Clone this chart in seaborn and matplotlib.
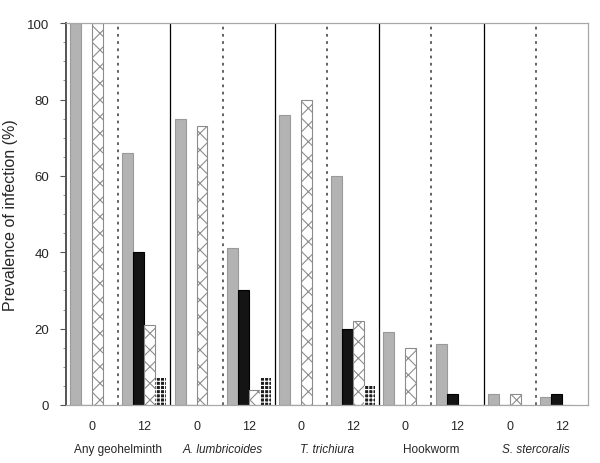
import matplotlib
matplotlib.use("Agg")
import matplotlib.pyplot as plt
import seaborn as sns
import pandas as pd
from matplotlib.transforms import blended_transform_factory

groups = ["Any geohelminth", "A. lumbricoides", "T. trichiura", "Hookworm", "S. stercoralis"]
group_italic = [False, True, True, False, True]
times = ["0", "12"]
series = ["S1", "S2", "S3", "S4"]

# values per slot (group x time), one list per series
s1 = [100, 66, 75, 41, 76, 60, 19, 16, 3, 2]
s2 = [0, 40, 0, 30, 0, 20, 0, 3, 0, 3]
s3 = [100, 21, 73, 4, 80, 22, 15, 0, 3, 0]
s4 = [0, 7, 0, 7, 0, 5, 0, 0, 0, 0]

slots = [f"{g}|{t}" for g in groups for t in times]
rows = []
for name, vals in zip(series, [s1, s2, s3, s4]):
    for slot, v in zip(slots, vals):
        rows.append({"slot": slot, "series": name, "value": v})
df = pd.DataFrame(rows)

sns.set_style("white")
plt.rcParams["font.family"] = ["Liberation Sans", "DejaVu Sans"]
plt.rcParams["hatch.linewidth"] = 0.8

fig = plt.figure(figsize=(6.0, 4.64), dpi=100)
ax = fig.add_axes([0.11, 0.125, 0.87, 0.823])

palette = {"S1": "#b3b3b3", "S2": "#141414", "S3": "white", "S4": "#1e1e1e"}
sns.barplot(data=df, x="slot", y="value", hue="series", order=slots,
            hue_order=series, palette=palette, width=0.84, dodge=True,
            errorbar=None, legend=False, ax=ax, saturation=1)

nslots = len(slots)
for i, p in enumerate(ax.patches[: 4 * nslots]):
    si = i // nslots
    if si == 0:
        p.set_edgecolor("#9a9a9a"); p.set_linewidth(0.8)
    elif si == 1:
        p.set_edgecolor("#000000"); p.set_linewidth(0.8)
    elif si == 2:
        p.set_facecolor("white"); p.set_edgecolor("#8c8c8c")
        p.set_hatch("xx"); p.set_linewidth(0.8)
    else:
        p.set_facecolor("#1e1e1e"); p.set_edgecolor("white")
        p.set_hatch("++++"); p.set_linewidth(0)

ax.set_xlim(-0.5, nslots - 0.5)
ax.set_ylim(0, 100)
ax.set_yticks([0, 20, 40, 60, 80, 100])
ax.set_yticks(range(0, 101, 5), minor=True)
ax.tick_params(axis="y", which="major", direction="out", length=4, width=0.8,
               color="#555555", labelsize=9.5, pad=8, left=True)
ax.tick_params(axis="y", which="minor", direction="out", length=2, width=0.6,
               color="#777777", left=True)
ax.set_xticks(range(nslots))
ax.set_xticklabels([t for g in groups for t in times])
ax.tick_params(axis="x", length=0, labelsize=9, pad=11)
ax.set_xlabel("")
ax.set_ylabel("Prevalence of infection (%)", fontsize=11.5)
ax.yaxis.set_label_coords(-0.092, 0.5)

for s in ["top", "right", "bottom"]:
    ax.spines[s].set_color("#a8a8a8")
    ax.spines[s].set_linewidth(0.9)
ax.spines["left"].set_color("#555555")
ax.spines["left"].set_linewidth(1.4)

for k in range(len(groups)):
    ax.axvline(2 * k + 0.5, color="#555555", linestyle=(0, (1.5, 2.5)), linewidth=1.3, zorder=1)
    if k > 0:
        ax.axvline(2 * k - 0.5, color="black", linewidth=0.9, zorder=1)

trans = blended_transform_factory(ax.transData, ax.transAxes)
for k, (g, it) in enumerate(zip(groups, group_italic)):
    ax.text(2 * k + 0.5, -0.115, g, transform=trans, ha="center", va="center",
            fontsize=8.5, style="italic" if it else "normal")

fig.savefig("out.png", dpi=100)
